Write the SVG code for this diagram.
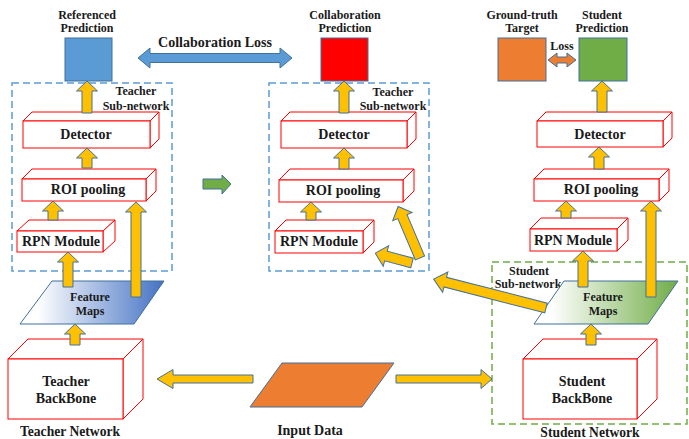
<svg xmlns="http://www.w3.org/2000/svg" width="689" height="439" viewBox="0 0 689 439">
<defs>
<linearGradient id="gBlue" x1="0" y1="0" x2="1" y2="0">
<stop offset="0.12" stop-color="#ffffff"/>
<stop offset="1" stop-color="#4472C4"/>
</linearGradient>
<linearGradient id="gGreen" x1="0" y1="0" x2="1" y2="0">
<stop offset="0.12" stop-color="#ffffff"/>
<stop offset="1" stop-color="#70AD47"/>
</linearGradient>
</defs>
<style>
text{font-family:"Liberation Serif","Times New Roman",serif;font-weight:bold;fill:#1a1a1a;text-anchor:middle}
.s12{font-size:12px}
.s14{font-size:14px}
.s13{font-size:13.6px}
.box{fill:#ffffff;stroke:#FF0000;stroke-width:1}
.face{fill:#ffffff;stroke:#FF0000;stroke-width:1;stroke-linejoin:miter}
.ya{fill:#FFC000;stroke:#41719C;stroke-width:1}
.dashB{fill:none;stroke:#5B9BD5;stroke-width:1.5;stroke-dasharray:7 4}
.dashG{fill:none;stroke:#70AD47;stroke-width:1.5;stroke-dasharray:7 4}
.sq{stroke:#41719C;stroke-width:1}
</style>
<rect width="689" height="439" fill="#ffffff"/>

<!-- dashed containers -->
<g id="teacher-subnet-left">
<rect class="dashB" x="12" y="83" width="160" height="188"/>
<text class="s12" x="136" y="95">Teacher</text>
<text class="s12" x="136" y="110">Sub-network</text>
</g>
<g id="teacher-subnet-mid">
<rect class="dashB" x="269" y="83" width="160" height="188"/>
<text class="s12" x="393" y="96">Teacher</text>
<text class="s12" x="393" y="110">Sub-network</text>
</g>
<g id="student-subnet">
<rect class="dashG" x="492" y="262" width="195" height="162"/>
<text class="s12" x="529" y="275">Student</text>
<text class="s12" x="528" y="288">Sub-network</text>
</g>

<!-- prediction squares -->
<g id="ref-pred">
<text class="s12" x="87" y="18.5">Referenced</text>
<text class="s12" x="87" y="31.5">Prediction</text>
<rect class="sq" x="65" y="38" width="47" height="43" fill="#5B9BD5"/>
</g>
<g id="collab-pred">
<text class="s12" x="345" y="18.5">Collaboration</text>
<text class="s12" x="345" y="31.5">Prediction</text>
<rect class="sq" x="321" y="38" width="47" height="43" fill="#FF0000"/>
</g>
<g id="gt-target">
<text class="s12" x="522" y="18.5">Ground-truth</text>
<text class="s12" x="522" y="31.5">Target</text>
<rect class="sq" x="498" y="38" width="48" height="43" fill="#ED7D31"/>
</g>
<g id="student-pred">
<text class="s12" x="602" y="18.5">Student</text>
<text class="s12" x="602" y="31.5">Prediction</text>
<rect class="sq" x="579" y="38" width="48" height="43" fill="#70AD47"/>
</g>

<!-- teacher left boxes -->
<g id="det-left">
<path class="face" d="M23,121 L32,112 L159,112 L150,121 Z"/>
<path class="face" d="M150,121 L159,112 L159,139 L150,148 Z"/>
<rect class="box" x="23" y="121" width="127" height="27"/>
<text class="s14" x="86" y="139">Detector</text>
</g>
<g id="roi-left">
<path class="face" d="M22,179 L32,169 L156,169 L146,179 Z"/>
<path class="face" d="M146,179 L156,169 L156,191 L146,201 Z"/>
<rect class="box" x="22" y="179" width="124" height="22"/>
<text class="s14" x="88" y="194">ROI pooling</text>
</g>
<g id="rpn-left">
<path class="face" d="M17,231 L29,220 L115,220 L103,231 Z"/>
<path class="face" d="M103,231 L115,220 L115,241 L103,252 Z"/>
<rect class="box" x="17" y="231" width="86" height="21"/>
<text class="s14" x="61" y="246">RPN Module</text>
</g>
<g id="fm-left">
<polygon points="52,281 164,281 134,324 20,324" fill="url(#gBlue)" stroke="#41719C" stroke-width="1"/>
<text class="s12" x="90" y="301">Feature</text>
<text class="s12" x="90" y="315">Maps</text>
</g>
<g id="teacher-backbone">
<path class="face" d="M8,359 L28,339 L143,339 L123,359 Z"/>
<path class="face" d="M123,359 L143,339 L143,399 L123,419 Z"/>
<rect class="box" x="8" y="359" width="115" height="60"/>
<text class="s14" x="66" y="386">Teacher</text>
<text class="s14" x="66" y="403">BackBone</text>
</g>
<text class="s13" x="70" y="436">Teacher Network</text>

<!-- middle boxes -->
<g id="det-mid">
<path class="face" d="M281,121 L290,112 L416,112 L407,121 Z"/>
<path class="face" d="M407,121 L416,112 L416,139 L407,148 Z"/>
<rect class="box" x="281" y="121" width="126" height="27"/>
<text class="s14" x="344" y="139">Detector</text>
</g>
<g id="roi-mid">
<path class="face" d="M279,180 L290,169 L414,169 L403,180 Z"/>
<path class="face" d="M403,180 L414,169 L414,191 L403,202 Z"/>
<rect class="box" x="279" y="180" width="124" height="22"/>
<text class="s14" x="343" y="195">ROI pooling</text>
</g>
<g id="rpn-mid">
<path class="face" d="M275,231 L286,220 L374,220 L363,231 Z"/>
<path class="face" d="M363,231 L374,220 L374,242 L363,253 Z"/>
<rect class="box" x="275" y="231" width="88" height="22"/>
<text class="s14" x="319" y="246">RPN Module</text>
</g>
<g id="input-data">
<polygon points="282,363 394,363 362,407 250,407" fill="#ED7D31" stroke="#41719C" stroke-width="1"/>
<text class="s14" x="310" y="435">Input Data</text>
</g>

<!-- right boxes -->
<g id="det-right">
<path class="face" d="M537,121 L546,112 L672,112 L663,121 Z"/>
<path class="face" d="M663,121 L672,112 L672,138 L663,147 Z"/>
<rect class="box" x="537" y="121" width="126" height="26"/>
<text class="s14" x="600" y="139">Detector</text>
</g>
<g id="roi-right">
<path class="face" d="M534,179 L544,169 L669,169 L659,179 Z"/>
<path class="face" d="M659,179 L669,169 L669,191 L659,201 Z"/>
<rect class="box" x="534" y="179" width="125" height="22"/>
<text class="s14" x="601" y="194">ROI pooling</text>
</g>
<g id="rpn-right">
<path class="face" d="M530,229 L541,218 L628,218 L617,229 Z"/>
<path class="face" d="M617,229 L628,218 L628,240 L617,251 Z"/>
<rect class="box" x="530" y="229" width="87" height="22"/>
<text class="s14" x="573" y="245">RPN Module</text>
</g>
<g id="fm-right">
<polygon points="564,281 678,281 648,324 534,324" fill="url(#gGreen)" stroke="#41719C" stroke-width="1"/>
<text class="s12" x="603" y="301">Feature</text>
<text class="s12" x="603" y="315">Maps</text>
</g>
<g id="student-backbone">
<path class="face" d="M523,359 L543,339 L657,339 L637,359 Z"/>
<path class="face" d="M637,359 L657,339 L657,399 L637,419 Z"/>
<rect class="box" x="523" y="359" width="114" height="60"/>
<text class="s14" x="582" y="386">Student</text>
<text class="s14" x="582" y="403">BackBone</text>
</g>
<text class="s13" x="590" y="437">Student Network</text>

<!-- connectors -->
<g id="connectors">
<!-- collaboration loss -->
<polygon points="138,58 150,48 150,53.5 280,53.5 280,48 292,58 280,68 280,62.5 150,62.5 150,68" fill="#5B9BD5" stroke="#41719C" stroke-width="1"/>
<text class="s14" x="215" y="46.5">Collaboration Loss</text>
<!-- loss -->
<polygon points="548,60 557,53 557,57 567,57 567,53 576,60 567,67 567,63 557,63 557,67" fill="#ED7D31" stroke="#41719C" stroke-width="1"/>
<text class="s12" x="562" y="50">Loss</text>
<!-- green arrow -->
<polygon points="203,179 222,179 222,175 231,184 222,194 222,189 203,189" fill="#70AD47" stroke="#41719C" stroke-width="1"/>

<!-- left yellow -->
<polygon class="ya" points="82,113 82,91 76.5,91 87,81 97.5,91 92,91 92,113"/>
<polygon class="ya" points="82,168 82,158 76.5,158 87,148 97.5,158 92,158 92,168"/>
<polygon class="ya" points="48,220 48,211 42.5,211 53,201 63.5,211 58,211 58,220"/>
<polygon class="ya" points="63,287 63,262 57.5,262 68,252 78.5,262 73,262 73,287"/>
<polygon class="ya" points="131,297 131,212 125.5,212 136,202 146.5,212 141,212 141,297"/>
<polygon class="ya" points="70,345 70,334 64.5,334 75,324 85.5,334 80,334 80,345"/>

<!-- middle yellow -->
<polygon class="ya" points="339,113 339,91 333.5,91 344,81 354.5,91 349,91 349,113"/>
<polygon class="ya" points="339,169 339,158 333.5,158 344,148 354.5,158 349,158 349,169"/>
<polygon class="ya" points="306,220 306,212 300.5,212 311,202 321.5,212 316,212 316,220"/>
<polygon class="ya" transform="translate(420,258) rotate(247)" points="0,-5 45,-5 45,-10.5 56,0 45,10.5 45,5 0,5"/>
<polygon class="ya" transform="translate(412,263) rotate(195)" points="0,-5 27,-5 27,-10.5 38,0 27,10.5 27,5 0,5"/>
<polygon class="ya" transform="translate(546,308) rotate(194.4)" points="0,-5 104,-5 104,-10.5 116,0 104,10.5 104,5 0,5"/>

<!-- input arrows -->
<polygon class="ya" points="253,375 173,375 173,369.5 157,379 173,388.5 173,383 253,383"/>
<polygon class="ya" points="396,375 481,375 481,369.5 492,379 481,388.5 481,383 396,383"/>

<!-- right yellow -->
<polygon class="ya" points="597,112 597,91 591.5,91 602,81 612.5,91 607,91 607,112"/>
<polygon class="ya" points="594,169 594,157 588.5,157 599,147 609.5,157 604,157 604,169"/>
<polygon class="ya" points="561,218 561,211 555.5,211 566,201 576.5,211 571,211 571,218"/>
<polygon class="ya" points="578,287 578,261 572.5,261 583,251 593.5,261 588,261 588,287"/>
<polygon class="ya" points="646,297 646,211 640.5,211 651,201 661.5,211 656,211 656,297"/>
<polygon class="ya" points="586,345 586,334 580.5,334 591,324 601.5,334 596,334 596,345"/>
</g>
</svg>
